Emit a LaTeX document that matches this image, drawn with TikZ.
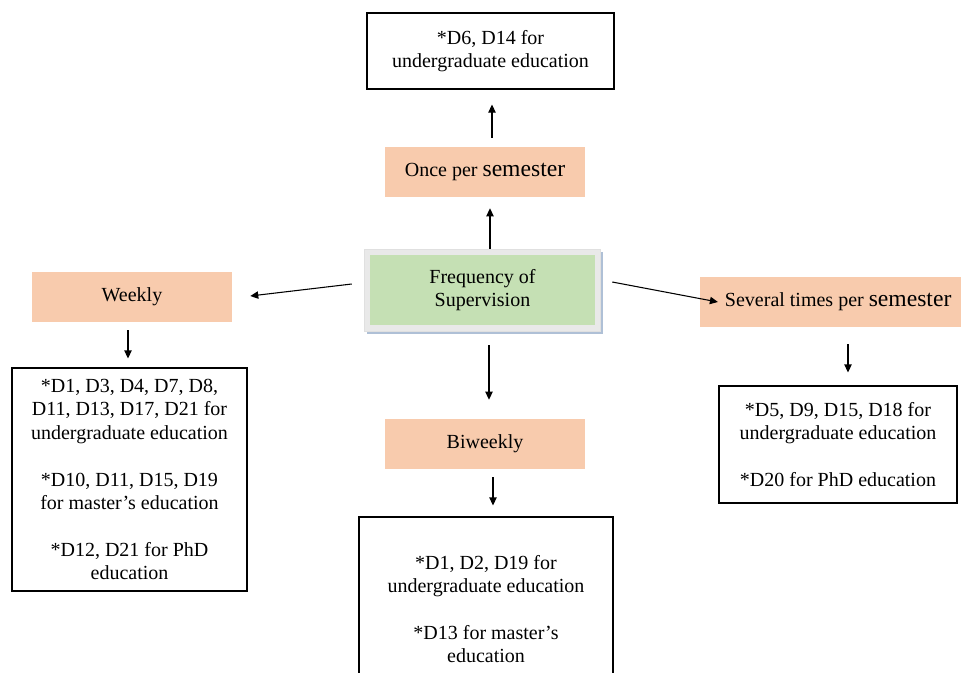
\documentclass[tikz,border=0pt]{standalone}
\usepackage{fontspec}
\setmainfont{Liberation Serif}
\usetikzlibrary{arrows.meta,calc,shadows}
\definecolor{salmon}{HTML}{F8CBAD}
\definecolor{softgreen}{HTML}{C5E0B4}
\definecolor{framegray}{HTML}{E9E9E9}
\definecolor{shadowblue}{HTML}{AFC0D6}
\newcommand{\bigsem}{{\fontsize{17.7}{17.6}\selectfont semester}}
\tikzset{
  every node/.style={font=\fontsize{15}{17.6}\selectfont, align=center, inner sep=0pt},
  catbox/.style={fill=salmon, minimum width=150pt, minimum height=37.5pt},
  infobox/.style={draw=black, line width=0.8pt},
  arr/.style={-{Triangle[length=6pt,width=5.5pt]}, line width=0.8pt},
}
\begin{document}
\begin{tikzpicture}[x=0.75pt,y=-0.75pt]
\useasboundingbox (0,0) rectangle (961,672);
\clip (0,0) rectangle (961,672);
\fill[white] (0,0) rectangle (961,672);

% nodes
\node[infobox, minimum width=185.25pt, minimum height=57pt] (topbox) at (490.5,51)
  {*D6, D14 for\\ undergraduate education};
\node[catbox] (once) at (485,172) {Once per \bigsem};
\node[fill=framegray, draw=framegray!80!black!20!framegray, minimum width=177pt, minimum height=61.5pt,
      drop shadow={shadow xshift=2pt, shadow yshift=-2pt, fill=shadowblue, opacity=1}] (ctrframe) at (482,290) {};
\node[fill=softgreen, minimum width=168.75pt, minimum height=52.5pt] (ctr) at (482.5,290)
  {Frequency of\\ Supervision};
\node[catbox] (weekly) at (132,297) {Weekly};
\node[infobox, minimum width=176.25pt, minimum height=167.25pt] (weeklyD) at (129.5,479.5)
  {*D1, D3, D4, D7, D8,\\ D11, D13, D17, D21 for\\ undergraduate education\\[17.6pt]
   *D10, D11, D15, D19\\ for master’s education\\[17.6pt]
   *D12, D21 for PhD\\ education};
\node[catbox, minimum width=197pt] (several) at (831.5,302) {\hspace*{10pt}Several times per \bigsem};
\node[infobox, minimum width=178.5pt, minimum height=87.75pt] (sevD) at (838,444.5)
  {*D5, D9, D15, D18 for\\ undergraduate education\\[17.6pt] *D20 for PhD education};
\node[catbox] (biweekly) at (485,444) {Biweekly};
\node[infobox, minimum width=190.5pt, minimum height=138pt] (biD) at (486,609)
  {*D1, D2, D19 for\\ undergraduate education\\[17.6pt] *D13 for master’s\\ education};

% connectors
\draw[arr] ($(ctrframe.north)+(8,0)$) -- ($(once.south)+(5,11)$);
\draw[arr] ($(once.north)+(7,-9)$) -- ($(topbox.south)+(1.5,15)$);
\draw[arr] ($(ctrframe.west)+(-12,-6)$) -- ($(weekly.east)+(18,-1)$);
\draw[arr] ($(weekly.south)+(-4,8)$) -- ($(weeklyD.north)+(-1.5,-9)$);
\draw[arr] ($(ctrframe.east)+(12,-8)$) -- ($(several.west)+(18,0)$);
\draw[arr] ($(several.south)+(16.5,17)$) -- ($(sevD.north)+(10,-13)$);
\draw[arr] ($(ctrframe.south)+(7,14)$) -- ($(biweekly.north)+(4,-19)$);
\draw[arr] ($(biweekly.south)+(8,8)$) -- ($(biD.north)+(7,-11)$);
\end{tikzpicture}
\end{document}
